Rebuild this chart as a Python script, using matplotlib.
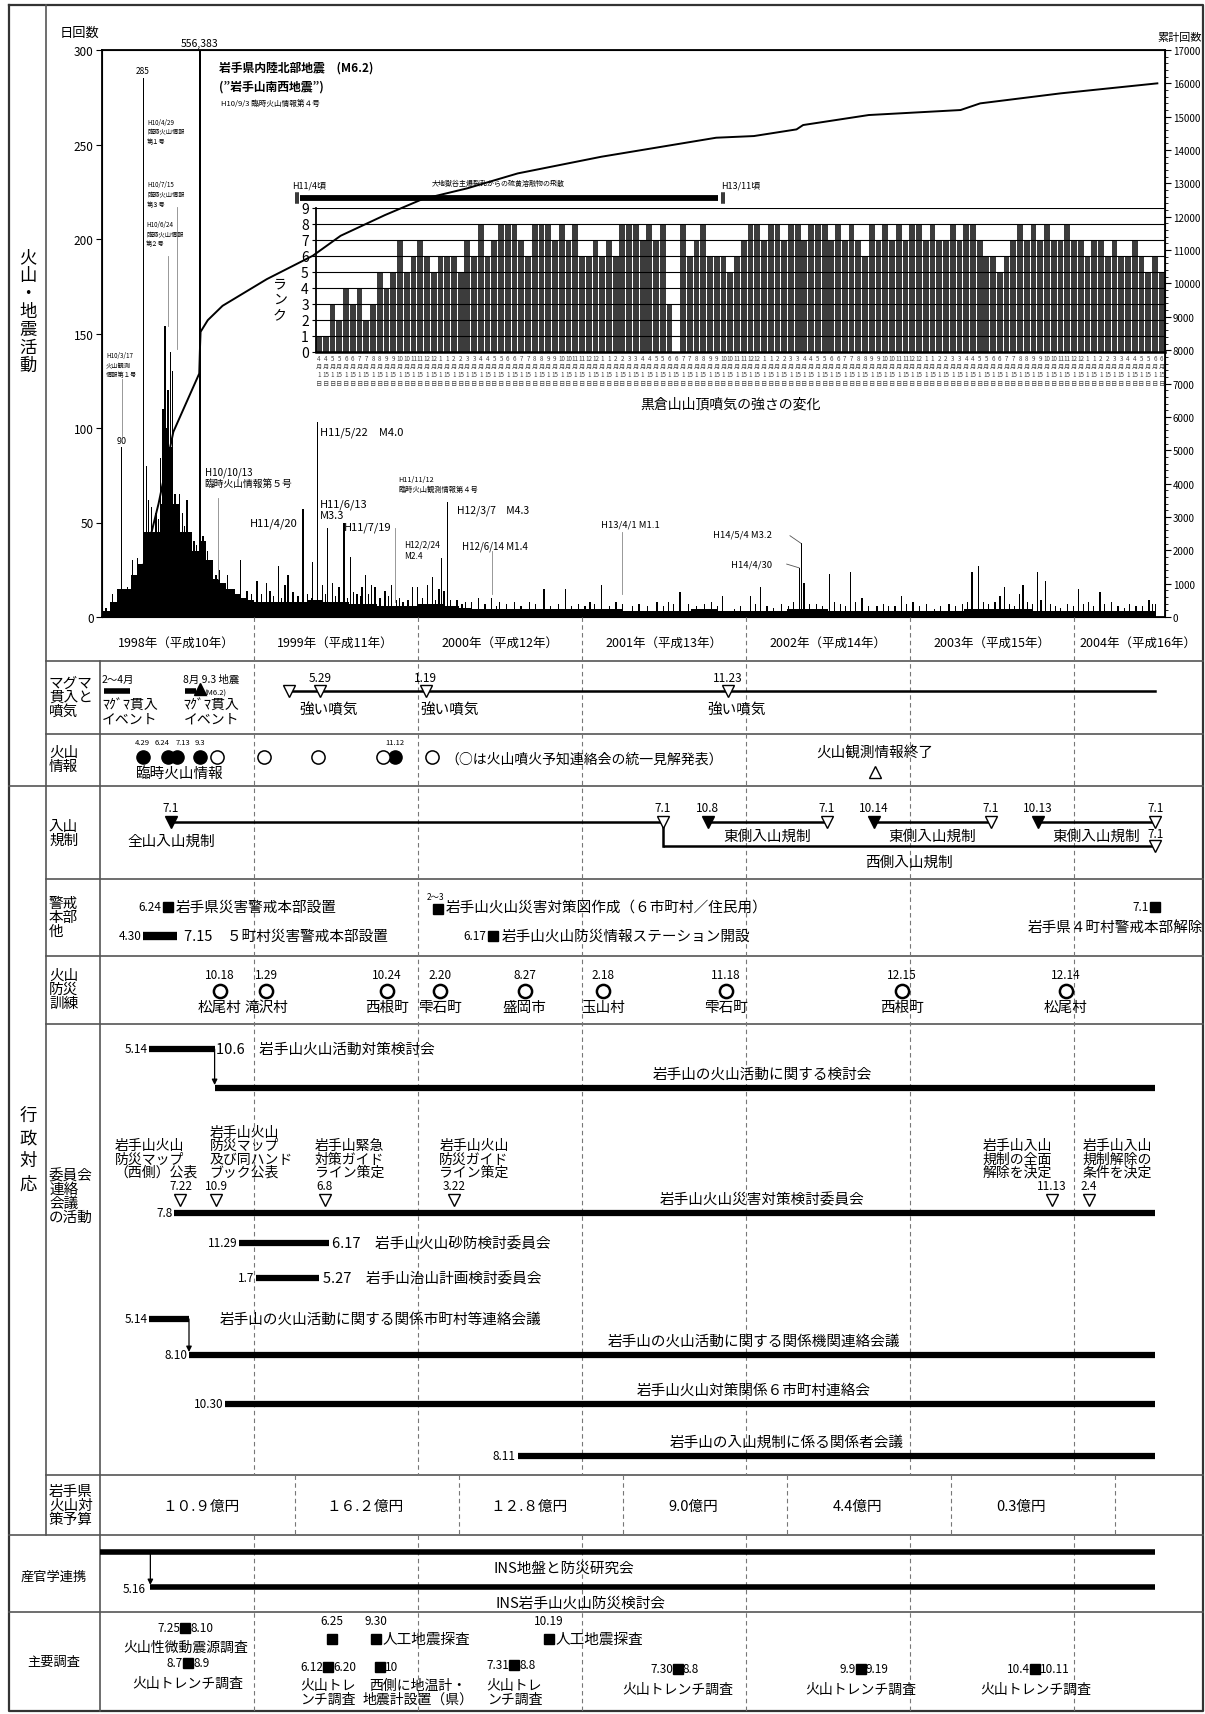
import matplotlib.pyplot as plt
from datetime import date

plt.rcParams['font.family'] = ['Noto Sans CJK JP', 'DejaVu Sans']

# ---------------- data ----------------
# daily earthquake counts: half-month levels Feb-Dec 1998
level_1998 = [3, 8, 15, 15, 22, 28, 45, 45, 45, 90, 60, 45, 45, 35, 40, 30, 20, 18, 15, 12, 10, 9]
# monthly levels Jan 1999 - Jun 2004
level_monthly = [8, 8, 8, 8, 9, 8, 8, 7, 7, 6, 6, 6,
                 7, 7, 6, 5, 4, 4, 4, 4, 4, 4, 4, 4,
                 4, 4, 4, 3, 3, 3, 3, 3, 4, 4, 3, 3,
                 3, 3, 3, 4, 4, 4, 3, 3, 3, 3, 3, 3,
                 3, 3, 3, 3, 4, 4, 4, 4, 4, 3, 3, 3,
                 3, 3, 3, 3, 3, 3]
# single days standing above the level (decimal year, count)
spike_t = [1998.10, 1998.14, 1998.17, 1998.195, 1998.23, 1998.26, 1998.29, 1998.31, 1998.327, 1998.345,
           1998.36, 1998.375, 1998.39, 1998.405, 1998.42, 1998.43, 1998.44, 1998.447, 1998.459, 1998.468,
           1998.478, 1998.494, 1998.506, 1998.52, 1998.535, 1998.547, 1998.565, 1998.58, 1998.594, 1998.605,
           1998.617, 1998.635, 1998.65, 1998.671, 1998.674, 1998.69, 1998.705, 1998.72, 1998.745, 1998.77,
           1998.79, 1998.815, 1998.84, 1998.88, 1998.92, 1998.96, 1998.985,
           1999.02, 1999.08, 1999.10, 1999.15, 1999.19, 1999.21, 1999.24, 1999.30, 1999.33, 1999.36,
           1999.39, 1999.42, 1999.45, 1999.48, 1999.52, 1999.55, 1999.59, 1999.63, 1999.66, 1999.68,
           1999.72, 1999.74, 1999.80, 1999.84, 1999.89, 1999.94, 1999.97,
           2000.00, 2000.06, 2000.09, 2000.13, 2000.147, 2000.16, 2000.18, 2000.24, 2000.29, 2000.37,
           2000.45, 2000.50, 2000.59, 2000.68, 2000.77, 2000.90, 2000.98,
           2001.05, 2001.12, 2001.21, 2001.31, 2001.35, 2001.46, 2001.53, 2001.60, 2001.65, 2001.79,
           2001.86, 2001.93,
           2002.03, 2002.09, 2002.17, 2002.29, 2002.33, 2002.34, 2002.355, 2002.43, 2002.51, 2002.54,
           2002.64, 2002.67, 2002.71, 2002.80, 2002.87, 2002.95,
           2003.02, 2003.15, 2003.32, 2003.38, 2003.42, 2003.45, 2003.55, 2003.58, 2003.64, 2003.67,
           2003.69, 2003.78, 2003.80, 2003.83, 2003.92,
           2004.03, 2004.09, 2004.16, 2004.23, 2004.31, 2004.38, 2004.46, 2004.50]
spike_v = [5, 12, 10, 90, 16, 30, 31, 22, 285, 80,
           62, 58, 42, 55, 52, 84, 60, 110, 154, 100,
           120, 140, 130, 65, 50, 65, 55, 48, 62, 38,
           45, 40, 38, 556, 383, 43, 38, 35, 27, 22,
           25, 18, 22, 15, 30, 14, 12,
           19, 18, 14, 27, 17, 22, 13, 57, 12, 29,
           103, 17, 47, 18, 16, 50, 32, 12, 16, 22,
           17, 16, 14, 17, 10, 9, 16,
           16, 17, 21, 15, 31, 14, 61, 9, 8, 10,
           10, 8, 8, 8, 15, 15, 7,
           8, 17, 8, 6, 7, 8, 8, 13, 7, 8,
           11, 4,
           11, 16, 5, 8, 26, 39, 18, 7, 23, 8,
           24, 8, 10, 6, 6, 11,
           8, 4, 7, 24, 27, 8, 11, 16, 6, 12,
           17, 24, 9, 19, 5,
           15, 8, 13, 8, 5, 6, 9, 7]
# smaller ragged bars along the top of the background band
minor_t = [1999.05, 1999.12, 1999.17, 1999.27, 1999.35, 1999.44, 1999.50, 1999.57, 1999.61, 1999.65,
           1999.70, 1999.77, 1999.82, 1999.87, 1999.91,
           2000.03, 2000.11, 2000.20, 2000.27, 2000.33, 2000.41, 2000.48, 2000.54, 2000.63, 2000.72,
           2000.81, 2000.86, 2000.94,
           2001.02, 2001.08, 2001.17, 2001.25, 2001.40, 2001.50, 2001.56, 2001.70, 2001.75, 2001.83,
           2001.97,
           2002.06, 2002.13, 2002.22, 2002.26, 2002.39, 2002.47, 2002.58, 2002.61, 2002.75, 2002.84,
           2002.91, 2002.98,
           2003.06, 2003.10, 2003.19, 2003.24, 2003.28, 2003.35, 2003.48, 2003.52, 2003.61, 2003.72,
           2003.75, 2003.86, 2003.89, 2003.96,
           2004.00, 2004.06, 2004.12, 2004.19, 2004.27, 2004.34, 2004.42, 2004.48]
minor_v = [12, 11, 10, 11, 10, 12, 11, 10, 13, 11,
           12, 10, 11, 9, 8,
           10, 9, 9, 7, 8, 7, 6, 7, 6, 7,
           6, 7, 6,
           6, 7, 6, 7, 6, 6, 7, 6, 7, 6,
           6,
           7, 6, 7, 6, 7, 6, 7, 6, 6, 7,
           6, 7,
           6, 7, 6, 7, 6, 8, 7, 8, 7, 8,
           7, 7, 6, 7,
           6, 7, 6, 7, 6, 7, 6, 7]

# cumulative count (累計回数)
cum_t = [1998.08, 1998.25, 1998.33, 1998.42, 1998.51, 1998.64, 1998.668, 1998.672, 1998.676, 1998.72,
         1998.81, 1999.08, 1999.36, 1999.53, 1999.80, 2000.03, 2000.30, 2000.61, 2001.12, 2001.82,
         2002.05, 2002.31, 2002.35, 2002.75, 2003.31, 2003.43, 2003.92, 2004.51]
cum_v = [0, 500, 1600, 3400, 5550, 6990, 7300, 8000, 8550, 8900,
         9330, 10130, 10830, 11430, 12050, 12530, 12850, 13300, 13800, 14370,
         14420, 14620, 14750, 15050, 15200, 15400, 15700, 16000]

# summit fumarole rank at 黒倉山, in order of observation
rank = [1, 1, 3, 2, 4, 3, 4, 2, 3, 5, 4, 5, 7, 5, 6, 7, 6, 5, 6, 6, 6, 5, 7, 6, 8, 6, 7, 8, 8, 8,
        7, 6, 8, 8, 8, 7, 8, 7, 8, 6, 6, 7, 6, 7, 6, 8, 8, 8, 7, 8, 7, 8, 3, 0, 8, 6,
        7, 8, 6, 6, 6, 5, 6, 7, 8, 8, 7, 8, 8, 7, 8, 8, 7, 8, 8, 8, 7, 8, 7, 8, 7, 6, 8, 7, 8, 7,
        8, 7, 8, 8, 7, 8, 7, 7, 8, 7, 8, 8, 7, 6, 6, 5, 6, 7, 8, 7, 8, 7, 8, 7, 7, 8, 7, 7, 6, 7,
        7, 6, 7, 6, 6, 7, 6, 5, 6, 5]

years = [1998, 1999, 2000, 2001, 2002, 2003, 2004]
heisei = [10, 11, 12, 13, 14, 15, 16]

# magma intrusion / fumaroles
magma_start = ['1998-02-01', '1998-08-01']
magma_end = ['1998-04-01', '1998-08-25']
quake_day = '1998-09-03'
fum_start, fum_end = '1999-03-20', '2004-07-01'
fum_strong = ['1999-05-29', '2000-01-19', '2001-11-23']
fum_strong_lbl = ['5.29', '1.19', '11.23']

# volcanic information
info_special = ['1998-04-29', '1998-06-24', '1998-07-15', '1998-09-03', '1999-11-12']
info_special_lbl = ['4.29', '6.24', '7.13', '9.3', '11.12']
info_unified = ['1998-10-12', '1999-01-25', '1999-05-25', '1999-10-15', '2000-02-01']
info_end = '2002-10-15'

# climbing restrictions
reg_all = ('1998-07-01', '2001-07-01')
reg_west = ('2001-07-01', '2004-07-01')
reg_east_start = ['2001-10-08', '2002-10-14', '2003-10-13']
reg_east_end = ['2002-07-01', '2003-07-01', '2004-07-01']
reg_east_lbl = ['10.8', '10.14', '10.13']

# alert headquarters etc.
hq_pref = '1998-06-24'
hq_towns = ('1998-04-30', '1998-07-15')
hazard_map = '2000-02-15'
station = '2000-06-17'
hq_lift = '2004-07-01'

# disaster drills
drill_date = ['1998-10-18', '1999-01-29', '1999-10-24', '2000-02-20', '2000-08-27',
              '2001-02-18', '2001-11-18', '2002-12-15', '2003-12-14']
drill_lbl = ['10.18', '1.29', '10.24', '2.20', '8.27', '2.18', '11.18', '12.15', '12.14']
drill_place = ['松尾村', '滝沢村', '西根町', '雫石町', '盛岡市', '玉山村', '雫石町', '西根町', '松尾村']

# committees / meetings
mt_start = ['1998-10-06', '1998-07-08', '1998-08-10', '1998-10-30', '2000-08-11']
mt_end = '2004-07-01'
mt_name = ['岩手山の火山活動に関する検討会', '岩手山火山災害対策検討委員会',
           '岩手山の火山活動に関する関係機関連絡会議', '岩手山火山対策関係６市町村連絡会',
           '岩手山の入山規制に係る関係者会議']
mt_lbl = ['', '7.8', '8.10', '10.30', '8.11']
pre_start = ['1998-05-14', '1998-05-14']
pre_end = ['1998-10-06', '1998-08-10']
cm_start = ['1998-11-29', '1999-01-07']
cm_end = ['1999-06-17', '1999-05-27']
cm_start_lbl = ['11.29', '1.7']
cm_end_lbl = ['6.17', '5.27']
cm_name = ['岩手山火山砂防検討委員会', '岩手山治山計画検討委員会']
decision_date = ['1998-07-22', '1998-10-09', '1999-06-08', '2000-03-22', '2003-11-13', '2004-02-04']
decision_lbl = ['7.22', '10.9', '6.8', '3.22', '11.13', '2.4']
decision_note = ['岩手山火山\n防災マップ\n（西側）公表', '岩手山火山\n防災マップ\n及び同ハンド\nブック公表',
                 '岩手山緊急\n対策ガイド\nライン策定', '岩手山火山\n防災ガイド\nライン策定',
                 '岩手山入山\n規制の全面\n解除を決定', '岩手山入山\n規制解除の\n条件を決定']

# prefectural budget by fiscal year (億円)
budget_fy = [1998, 1999, 2000, 2001, 2002, 2003]
budget_lbl = ['１０.９億円', '１６.２億円', '１２.８億円', '9.0億円', '4.4億円', '0.3億円']

# industry-government-academia
ins_study_start = '1997-04-01'
ins_volc = ('1998-05-16', '2004-07-01')

# main surveys
survey_span = [('1998-07-25', '1998-08-10'), ('1998-08-07', '1998-08-09'), ('1999-06-12', '1999-06-20'),
               ('2000-07-31', '2000-08-08'), ('2001-07-30', '2001-08-08'), ('2002-09-09', '2002-09-19'),
               ('2003-10-04', '2003-10-11')]
survey_span_lbl = [('7.25', '8.10'), ('8.7', '8.9'), ('6.12', '6.20'), ('7.31', '8.8'),
                   ('7.30', '8.8'), ('9.9', '9.19'), ('10.4', '10.11')]
survey_span_name = ['火山性微動震源調査', '火山トレンチ調査', '火山トレ\nンチ調査', '火山トレ\nンチ調査',
                    '火山トレンチ調査', '火山トレンチ調査', '火山トレンチ調査']
seismic_day = ['1999-06-25', '1999-09-30', '2000-10-19']
seismic_lbl = ['6.25', '9.30', '10.19']
seismic_name = ['', '人工地震探査', '人工地震探査']
thermo_day = '1999-10-10'


def yr(s):
    y, m, d = map(int, s.split('-'))
    d0 = date(y, 1, 1).toordinal()
    return y + (date(y, m, d).toordinal() - d0) / (date(y + 1, 1, 1).toordinal() - d0)


# ---------------- layout ----------------
W, H = 1205, 1715
fig = plt.figure(figsize=(W / 100, H / 100), dpi=100)
X1999, PPY = 253.7, 164.0


def t_at(px):
    return 1999 + (px - X1999) / PPY


def px_axes(x0, y0, x1, y1):
    return fig.add_axes([x0 / W, 1 - y1 / H, (x1 - x0) / W, (y1 - y0) / H])


FS, FD = 10.5, 8.5
GRID = '#555555'

# background grid of the table
bg = px_axes(0, 0, W, H)
bg.set_xlim(0, W)
bg.set_ylim(H, 0)
bg.axis('off')
bg.set_zorder(-2)
L0, L1, L2, R = 8.7, 46, 99.5, 1203
bg.plot([L0, R, R, L0, L0], [5.5, 5.5, 1712, 1712, 5.5], color='#333', lw=1.6)
bg.plot([L1, L1], [5.5, 1536.4], color=GRID, lw=1.2)
bg.plot([L2, L2], [661.6, 1712], color=GRID, lw=1.2)
for yy in [661.6, 734.8, 880.3, 956.8, 1024.6, 1476.2]:
    bg.plot([L1, R], [yy, yy], color=GRID, lw=1.2)
for yy in [787.3, 1536.4, 1613]:
    bg.plot([L0, R], [yy, yy], color=GRID, lw=1.2)

bg.text(28, 312, '火\n山\n・\n地\n震\n活\n動', ha='center', va='center', fontsize=12.5, linespacing=1.0)
bg.text(28, 1150, '行\n政\n対\n応', ha='center', va='center', fontsize=12.5, linespacing=1.35)
bg.text(54, 1577, '産官学連携', ha='center', va='center', fontsize=9.5)
bg.text(54, 1662, '主要調査', ha='center', va='center', fontsize=9.5)
row_lbl = ['マグマ\n貫入と\n噴気', '火山\n情報', '入山\n規制', '警戒\n本部\n他', '火山\n防災\n訓練',
           '委員会\n連絡\n会議\nの活動', '岩手県\n火山対\n策予算']
row_y = [698, 760, 834, 918, 990, 1197, 1506]
for s, yy in zip(row_lbl, row_y):
    bg.text(49, yy, s, ha='left', va='center', fontsize=10.5, linespacing=1.0)

# ---------------- main chart ----------------
ax = px_axes(102, 51, 1165, 618)
ax.patch.set_visible(False)
ax.set_xlim(t_at(102), t_at(1165))
ax.set_ylim(0, 300)
t98 = [1998 + (1 + i / 2) / 12 for i in range(len(level_1998))]
ax.bar(t98, level_1998, width=1 / 24, align='edge', color='k', lw=0)
tm = [1999 + k / 12 for k in range(len(level_monthly))]
ax.bar(tm, level_monthly, width=1 / 12, align='edge', color='k', lw=0)
ax.bar(minor_t, minor_v, width=2.5 / 365, color='k', lw=0)
ax.bar(spike_t, spike_v, width=3 / 365, color='k', lw=0)
ax.set_xticks([])
ax.set_yticks(range(0, 301, 50))
ax.tick_params(axis='y', length=4, labelsize=8.5, pad=2)
for sp in ax.spines.values():
    sp.set_linewidth(1.3)

ax2 = ax.twinx()
ax2.plot(cum_t, cum_v, color='k', lw=1.4)
ax2.set_ylim(0, 17000)
ax2.set_yticks(range(0, 17001, 1000))
ax2.set_yticks(range(0, 17001, 200), minor=True)
ax2.tick_params(axis='y', length=4, labelsize=7, pad=1.5)
ax2.tick_params(axis='y', which='minor', length=2)

fig.text(80 / W, 1 - 33 / H, '日回数', fontsize=9.5, ha='center', va='center')
fig.text(1180 / W, 1 - 38 / H, '累計回数', fontsize=8, ha='center', va='center')

# labels inside the chart
ax.text(yr('1998-04-29'), 287, '285', fontsize=6, ha='center', va='bottom')
ax.text(yr('1998-09-03'), 301, '556,383', fontsize=7.5, ha='center', va='bottom', clip_on=False)
ax.text(1998.195, 91, '90', fontsize=6.5, ha='center', va='bottom')
ax.text(1998.787, 291, '岩手県内陸北部地震　(M6.2)', fontsize=8.5, weight='bold', va='center')
ax.text(1998.787, 281, '(”岩手山南西地震”)', fontsize=8.5, weight='bold', va='center')
ax.text(1998.80, 272, 'H10/9/3 臨時火山情報第４号', fontsize=5.5, va='center')
small = dict(fontsize=4.5, va='top', ha='left', linespacing=1.3)
ax.text(1998.35, 264, 'H10/4/29\n臨時火山情報\n第１号', **small)
ax.text(1998.35, 231, 'H10/7/15\n臨時火山情報\n第３号', **small)
ax.text(1998.345, 210, 'H10/6/24\n臨時火山情報\n第２号', **small)
ax.text(1998.10, 141, 'H10/3/17\n火山観測\n情報第１号', **small)
ax.text(1999.88, 75, 'H11/11/12\n臨時火山観測情報第４号', fontsize=5.2, va='top', ha='left', linespacing=1.3)
ax.text(1999.915, 41, 'H12/2/24\nM2.4', fontsize=6, va='top', ha='left', linespacing=1.3)
ax.plot([yr('1998-06-24')] * 2, [154, 191], color='#888', lw=0.6)
ax.plot([yr('1998-07-15')] * 2, [142, 217], color='#888', lw=0.6)
ax.plot([1998.195] * 2, [96, 126], color='#888', lw=0.6)
ax.plot([yr('1998-10-13')] * 2, [20, 63], color='#888', lw=0.6)
ax.plot([yr('1999-11-12')] * 2, [8, 47], color='#888', lw=0.6)
ax.plot([yr('2000-06-14')] * 2, [12, 35], color='#888', lw=0.6)
ax.plot([yr('2001-04-01')] * 2, [12, 45], color='#888', lw=0.6)
ax.plot([2002.27, yr('2002-05-04')], [43, 39], color='#555', lw=0.6)
ax.plot([2002.25, yr('2002-04-30')], [28, 26], color='#555', lw=0.6)
ax.text(1998.70, 74, 'H10/10/13\n臨時火山情報第５号', fontsize=7, va='center', ha='left', linespacing=1.15)
ax.text(1999.27, 50, 'H11/4/20', fontsize=8, va='center', ha='right')
ax.text(1999.405, 98, 'H11/5/22　M4.0', fontsize=8, va='center', ha='left')
ax.text(1999.405, 57, 'H11/6/13\nM3.3', fontsize=8, va='center', ha='left', linespacing=1.1)
ax.text(1999.55, 48, 'H11/7/19', fontsize=8, va='center', ha='left')
ax.text(2000.24, 57, 'H12/3/7　M4.3', fontsize=7.5, va='center', ha='left')
ax.text(2000.27, 37.6, 'H12/6/14 M1.4', fontsize=7, va='center', ha='left')
ax.text(2001.12, 49, 'H13/4/1 M1.1', fontsize=6.8, va='center', ha='left')
ax.text(2001.80, 44, 'H14/5/4 M3.2', fontsize=6.8, va='center', ha='left')
ax.text(2001.91, 28, 'H14/4/30', fontsize=6.8, va='center', ha='left')

# sulphur ejection period bar
s0, s1 = yr('1999-04-15'), yr('2001-11-01')
ax.plot([s0, s1], [221.7, 221.7], color='k', lw=4.2, solid_capstyle='butt')
for dx in (-0.03, -0.015):
    ax.plot([s0 + dx] * 2, [219, 224.5], color='k', lw=1.1)
for dx in (0.02, 0.035):
    ax.plot([s1 + dx] * 2, [219, 224.5], color='k', lw=1.1)
ax.text(s0 - 0.05, 226, 'H11/4頃', fontsize=6.5, ha='left', va='bottom')
ax.text(s1 + 0.02, 226, 'H13/11頃', fontsize=6.5, ha='left', va='bottom')
ax.text(2000.49, 227.5, '大地獄谷主爆裂孔からの硫黄溶融物の飛散', fontsize=5, ha='center', va='bottom')

# ---------------- fumarole rank inset ----------------
ins = px_axes(315.7, 209, 1165, 352.7)
ins.set_zorder(-1)
ins.patch.set_visible(False)
n = len(rank)
ins.bar(range(n), rank, width=0.86, color='#3c3c3c', lw=0)
ins.set_xlim(-0.5, n - 0.5)
ins.set_ylim(0, 9)
for k in range(1, 10):
    ins.axhline(k, color='k', lw=1.5 if k == 9 else 0.8, zorder=3)
for side in ['top', 'right']:
    ins.spines[side].set_visible(False)
ins.spines['left'].set_linewidth(1.3)
ins.spines['bottom'].set_linewidth(1.8)
ins.set_yticks(range(10))
ins.tick_params(axis='y', length=3, labelsize=10, pad=2)
ins.set_xticks(range(n))
ins.set_xticklabels([f"{(3 + i // 2) % 12 + 1}\n月\n{1 if i % 2 == 0 else 15}\n日" for i in range(n)],
                    fontsize=4.5, color='#444', linespacing=1.05)
ins.tick_params(axis='x', length=0, pad=1.5)
fig.text(280 / W, 1 - 300 / H, 'ラ\nン\nク', fontsize=10, ha='center', va='center', linespacing=1.1)
fig.text(730 / W, 1 - 405 / H, '黒倉山山頂噴気の強さの変化', fontsize=10, ha='center', va='center')

# ---------------- time-line table ----------------
tl = px_axes(0, 0, W, H)
tl.set_xlim(t_at(0), t_at(W))
tl.set_ylim(H, 0)
tl.axis('off')
T_LEFT, T_RIGHT = t_at(L2), t_at(R)

for y in years[1:]:
    for ya, yb in [(618, 1476.2), (1536.4, 1712)]:
        tl.plot([y, y], [ya, yb], color='#777', lw=0.8, dashes=(4, 3), zorder=0)
for fy in budget_fy:
    tl.plot([fy + 1.25] * 2, [1476.2, 1536.4], color='#777', lw=0.8, dashes=(4, 3), zorder=0)

for y, h in zip(years, heisei):
    c = (max(y, T_LEFT) + min(y + 1, T_RIGHT)) / 2
    tl.text(c, 643, f'{y}年（平成{h}年）', ha='center', va='center', fontsize=9)


def txt(t, y, s, ha='center', va='center', fs=FS, **kw):
    tl.text(t, y, s, ha=ha, va=va, fontsize=fs, **kw)


def hbar(t0, t1, y, lw=4.5):
    tl.plot([t0, t1], [y, y], color='k', lw=lw, solid_capstyle='butt')


def mark(t, y, m, filled, ms=8.5, mew=1.0):
    tl.plot([t], [y], marker=m, ms=ms, mfc='k' if filled else 'white', mec='k', mew=mew, zorder=4)


def arrow(t, y0, y1):
    tl.annotate('', xy=(t, y1), xytext=(t, y0),
                arrowprops=dict(arrowstyle='-|>', color='k', lw=0.9, mutation_scale=8,
                                shrinkA=0, shrinkB=0))


# magma row
for a, b in zip(magma_start, magma_end):
    hbar(yr(a), yr(b), 692, lw=4)
txt(yr(magma_start[0]) - 0.01, 680, '2〜4月', ha='left', fs=7.5)
txt(yr(magma_start[0]) - 0.01, 713, 'ﾏｸﾞﾏ貫入\nイベント', ha='left', fs=10, linespacing=0.95)
txt(yr(magma_start[1]) - 0.01, 680, '8月 9.3 地震', ha='left', fs=7.5)
txt(yr(quake_day) + 0.03, 694, '(M6.2)', ha='left', fs=5.5)
txt(yr(magma_start[1]) - 0.01, 713, 'ﾏｸﾞﾏ貫入\nイベント', ha='left', fs=10, linespacing=0.95)
mark(yr(quake_day), 690, '^', True, ms=8)
tl.plot([yr(fum_start), yr(fum_end)], [692, 692], color='k', lw=1.8)
mark(yr(fum_start), 692, 'v', False)
for d, s in zip(fum_strong, fum_strong_lbl):
    mark(yr(d), 692, 'v', False)
    txt(yr(d), 679, s, fs=FD)
    if s == '1.19':
        txt(yr(d) - 0.03, 711, '強い噴気', ha='left')
    else:
        txt(yr(d) + 0.05, 711, '強い噴気')

# volcanic information row
info_lbl_ha = ['center', 'right', 'left', 'center', 'center']
for d, s, ha in zip(info_special, info_special_lbl, info_lbl_ha):
    mark(yr(d), 758, 'o', True, ms=9.5)
    dx = {'center': 0, 'right': 0.012, 'left': -0.012}[ha]
    txt(yr(d) + dx, 743, s, ha=ha, fs=5.5)
for d in info_unified:
    mark(yr(d), 758, 'o', False, ms=9.5, mew=1.1)
txt(1998.55, 775, '臨時火山情報')
txt(2000.17, 760, '（○は火山噴火予知連絡会の統一見解発表）', ha='left', fs=10)
txt(yr(info_end), 753, '火山観測情報終了')
mark(yr(info_end), 773, '^', False, ms=8)

# climbing restriction row
hbar(yr(reg_all[0]), yr(reg_all[1]), 823, lw=1.8)
mark(yr(reg_all[0]), 823, 'v', True)
txt(yr(reg_all[0]), 809, '7.1', fs=FD)
txt(yr(reg_all[0]), 842, '全山入山規制')
tl.plot([yr(reg_all[1])] * 2, [823, 847], color='k', lw=1.8)
hbar(yr(reg_west[0]), yr(reg_west[1]), 847, lw=1.8)
mark(yr(reg_all[1]), 823, 'v', False)
txt(yr(reg_all[1]), 809, '7.1', fs=FD)
mark(yr(reg_west[1]), 847, 'v', False)
txt(yr(reg_west[1]), 835, '7.1', fs=FD)
txt((yr(reg_west[0]) + yr(reg_west[1])) / 2, 863, '西側入山規制')
for a, b, s in zip(reg_east_start, reg_east_end, reg_east_lbl):
    hbar(yr(a), yr(b), 823, lw=1.8)
    mark(yr(a), 823, 'v', True)
    mark(yr(b), 823, 'v', False)
    txt(yr(a), 809, s, fs=FD)
    txt(yr(b), 809, '7.1', fs=FD)
    txt((yr(a) + yr(b)) / 2, 837, '東側入山規制')

# alert headquarters row
mark(yr(hq_pref), 908, 's', True, ms=7.5)
txt(yr(hq_pref) - 0.04, 908, '6.24', ha='right', fs=FD)
txt(yr(hq_pref) + 0.05, 908, '岩手県災害警戒本部設置', ha='left')
hbar(yr(hq_towns[0]), yr(hq_towns[1]), 937, lw=6)
txt(yr(hq_towns[0]) - 0.01, 937, '4.30', ha='right', fs=FD)
txt(yr(hq_towns[1]) + 0.04, 937, '7.15　５町村災害警戒本部設置', ha='left')
mark(yr(hazard_map), 910, 's', True, ms=7.5)
txt(yr(hazard_map) - 0.07, 898, '2〜3', ha='left', fs=6)
txt(yr(hazard_map) + 0.05, 908, '岩手山火山災害対策図作成（６市町村／住民用）', ha='left')
mark(yr(station), 937, 's', True, ms=7.5)
txt(yr(station) - 0.04, 937, '6.17', ha='right', fs=FD)
txt(yr(station) + 0.05, 937, '岩手山火山防災情報ステーション開設', ha='left')
mark(yr(hq_lift), 908, 's', True, ms=7.5)
txt(yr(hq_lift) - 0.04, 908, '7.1', ha='right', fs=FD)
txt(T_RIGHT, 928, '岩手県４町村警戒本部解除', ha='right')

# drill row
for d, s, p in zip(drill_date, drill_lbl, drill_place):
    mark(yr(d), 992, 'o', False, ms=9.5, mew=1.8)
    txt(yr(d), 976, s, fs=FD)
    txt(yr(d), 1008, p)

# committee row
mt_y = [1089, 1214, 1356, 1405, 1457]
mt_cx = [2002.1, 2002.1, 2002.05, 2002.05, 2002.25]
for d, name, lbl, yy, cx in zip(mt_start, mt_name, mt_lbl, mt_y, mt_cx):
    hbar(yr(d), yr(mt_end), yy)
    txt(cx, yy - 14, name)
    if lbl:
        txt(yr(d) - 0.01, yy, lbl, ha='right', fs=FD)
pre_y = [1050, 1320]
for a, b, yy, yy2 in zip(pre_start, pre_end, pre_y, [1089, 1356]):
    hbar(yr(a), yr(b), yy)
    txt(yr(a) - 0.01, yy, '5.14', ha='right', fs=FD)
    arrow(yr(b), yy, yy2 - 3)
txt(yr(pre_end[0]) + 0.01, 1050, '10.6　岩手山火山活動対策検討会', ha='left')
txt(1998.79, 1320, '岩手山の火山活動に関する関係市町村等連絡会議', ha='left')
for a, b, la, lb, name, yy in zip(cm_start, cm_end, cm_start_lbl, cm_end_lbl, cm_name, [1244, 1279]):
    hbar(yr(a), yr(b), yy)
    txt(yr(a) - 0.01, yy, la, ha='right', fs=FD)
    txt(yr(b) + 0.02, yy, f'{lb}　{name}', ha='left')
note_dx = [-0.40, -0.04, -0.06, -0.09, -0.42, -0.04]
for d, s, note, dx in zip(decision_date, decision_lbl, decision_note, note_dx):
    mark(yr(d), 1201, 'v', False, ms=9)
    txt(yr(d), 1187, s, fs=FD)
    txt(yr(d) + dx, 1180, note, ha='left', va='bottom', fs=10, linespacing=0.95)

# budget row
for fy, s in zip(budget_fy, budget_lbl):
    txt(fy + 0.68, 1507, s, fs=10.5)

# industry / academia row
hbar(max(yr(ins_study_start), T_LEFT), yr(ins_volc[1]), 1553, lw=4)
txt(2000.89, 1569, 'INS地盤と防災研究会')
arrow(yr(ins_volc[0]), 1553, 1586)
hbar(yr(ins_volc[0]), yr(ins_volc[1]), 1588, lw=4)
txt(yr(ins_volc[0]) - 0.03, 1590, '5.16', ha='right', fs=FD)
txt(2000.99, 1604, 'INS岩手山火山防災検討会')

# survey row
span_y = [1629, 1664, 1668, 1666, 1670, 1670, 1670]
name_y = [1648, 1684, 1693, 1693, 1690, 1690, 1690]
for (a, b), (la, lb), nm, yy, ny in zip(survey_span, survey_span_lbl, survey_span_name, span_y, name_y):
    c = (yr(a) + yr(b)) / 2
    mark(c, yy, 's', True, ms=7.5)
    txt(c - 0.03, yy, la, ha='right', fs=FD)
    txt(c + 0.03, yy, lb, ha='left', fs=FD)
    txt(c, ny, nm, fs=10, linespacing=1.0)
for d, s, nm in zip(seismic_day, seismic_lbl, seismic_name):
    mark(yr(d), 1640, 's', True, ms=7.5)
    txt(yr(d), 1622, s, fs=FD)
    if nm:
        txt(yr(d) + 0.04, 1640, nm, ha='left')
mark(yr(thermo_day), 1668, 's', True, ms=7.5)
txt(yr(thermo_day) + 0.03, 1668, '10', ha='left', fs=FD)
txt(2000.0, 1693, '西側に地温計・\n地震計設置（県）', fs=10, linespacing=1.0)

fig.savefig('out.png', dpi=100)
